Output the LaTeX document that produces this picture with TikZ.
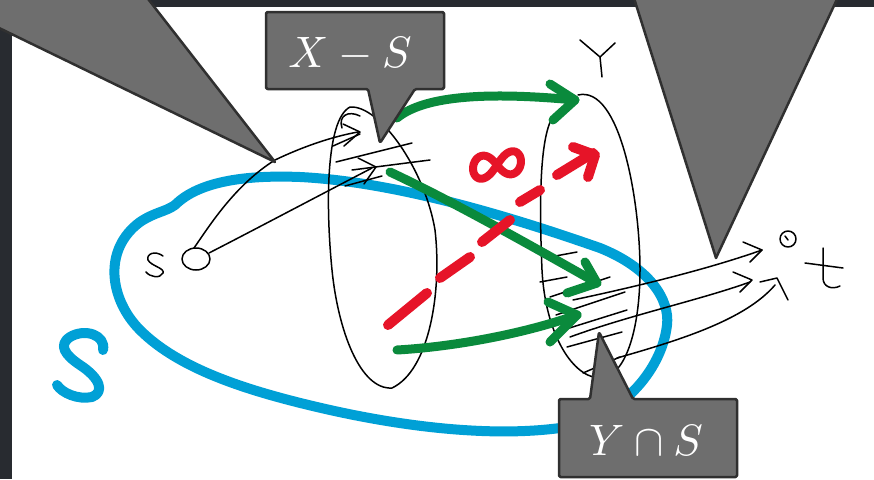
\documentclass[tikz,border=0pt]{standalone}
\usepackage{graphicx}
\usetikzlibrary{calc}
\definecolor{darkbg}{RGB}{40,43,48}
\definecolor{callgray}{RGB}{110,110,110}
\definecolor{calledge}{RGB}{48,48,48}
\definecolor{skyblue}{RGB}{0,160,214}
\definecolor{pgreen}{RGB}{10,138,60}
\definecolor{pred}{RGB}{230,20,40}
\tikzset{
  hand/.style={draw=black,line width=1.5pt,line cap=round,line join=round},
  bluepen/.style={draw=skyblue,line width=10pt,line cap=round,line join=round},
  greenpen/.style={draw=pgreen,line width=9pt,line cap=round,line join=round},
  redpen/.style={draw=pred,line width=10pt,line cap=round,line join=round},
  callout/.style={fill=callgray,draw=calledge,line width=2.5pt,line join=round},
  calltext/.style={text=white,inner sep=0pt}
}
\begin{document}
\begin{tikzpicture}[x=1pt,y=-1pt]
\useasboundingbox (0,0) rectangle (874,479);
% background
\fill[darkbg] (0,0) rectangle (874,479);
\fill[white] (12,7) rectangle (874,479);

% blue set S
\path[bluepen] (175,205) .. controls (200,180) and (250,175) .. (300,177)
  .. controls (400,182) and (520,220) .. (600,248)
  .. controls (650,268) and (670,300) .. (667,325)
  .. controls (662,370) and (620,420) .. (560,428)
  .. controls (500,436) and (420,430) .. (330,410)
  .. controls (250,392) and (180,370) .. (140,330)
  .. controls (110,300) and (102,250) .. (140,222)
  .. controls (155,212) and (165,212) .. (175,205);
\path[bluepen] (103,350) .. controls (106,335) and (85,328) .. (70,337)
  .. controls (58,345) and (65,355) .. (80,365)
  .. controls (100,378) and (105,392) .. (92,397)
  .. controls (78,400) and (62,393) .. (57,385);

% s and source circle
\path[hand] (163,256) .. controls (155,250) and (146,254) .. (148,260)
  .. controls (151,266) and (165,268) .. (163,273)
  .. controls (160,279) and (150,277) .. (146,272);
\draw[hand] (196,259) ellipse [x radius=14, y radius=11];
\path[hand] (194,248) .. controls (210,225) and (235,185) .. (275,160)
  .. controls (300,148) and (330,137) .. (358,132);
\path[hand] (343,124) -- (360,132) -- (344,146);
\path[hand] (209,253) .. controls (250,232) and (320,195) .. (372,168);
\path[hand] (358,158) -- (376,167) -- (364,184);

% X oval
\path[hand] (350,107) .. controls (380,105) and (425,170) .. (435,230)
  .. controls (442,290) and (430,370) .. (392,388)
  .. controls (360,390) and (338,330) .. (332,270)
  .. controls (326,210) and (325,120) .. (350,107);
\path[hand] (342,128) .. controls (338,116) and (348,110) .. (360,116);
\path[hand] (333,146) -- (360,134);
\path[hand] (336,162) -- (412,143);
\path[hand] (352,170) -- (430,160);
\path[hand] (345,186) -- (382,176);

% Y oval and label
\path[hand] (578,95) .. controls (620,85) and (640,200) .. (640,270)
  .. controls (640,330) and (625,380) .. (598,378)
  .. controls (570,375) and (545,330) .. (542,270)
  .. controls (539,200) and (540,140) .. (552,118);
\path[hand] (572,94) -- (575,104);
\path[hand] (580,40) -- (600,57) -- (615,43);
\path[hand] (600,57) -- (602,77);

% hatching of Y cap S
\path[hand] (550,257) -- (577,252);
\path[hand] (540,282) -- (567,277);
\path[hand] (550,297) -- (610,277);
\path[hand] (556,315) -- (625,292);
\path[hand] (563,330) -- (627,310);
\path[hand] (567,347) -- (622,332);
\path[hand] (583,373) -- (620,357);

% lines to t
\path[hand] (573,300) .. controls (620,290) and (700,272) .. (762,250);
\path[hand] (743,242) -- (762,250) -- (750,262);
\path[hand] (570,337) .. controls (630,315) and (700,300) .. (750,282);
\path[hand] (733,272) -- (752,280) -- (740,292);
\path[hand] (617,358) .. controls (680,340) and (745,320) .. (775,285);
\path[hand] (760,282) -- (777,278) -- (788,300);

% t
\draw[hand] (788,239) circle [radius=8];
\path[hand] (785,236) -- (788,240);
\path[hand] (805,263) -- (843,268);
\path[hand] (823,248) -- (823,278) .. controls (823,287) and (832,290) .. (840,286);

% green arrows
\path[greenpen] (397,118) .. controls (425,95) and (490,92) .. (575,100);
\path[greenpen] (550,84) -- (575,100) -- (553,120);
\path[greenpen] (390,172) .. controls (450,200) and (530,245) .. (597,283);
\path[greenpen] (585,262) -- (597,283) -- (567,293);
\path[greenpen] (397,350) .. controls (450,347) and (520,335) .. (577,315);
\path[greenpen] (548,302) -- (577,315) -- (550,342);

% red dashed arrow and infinity
\path[redpen] (388,325) -- (427,293);
\path[redpen] (440,278) -- (470,257);
\path[redpen] (482,242) -- (510,220);
\path[redpen] (520,202) -- (540,190);
\path[redpen] (557,175) -- (593,153);
\path[redpen] (573,147) -- (595,155) -- (588,177);
\draw[pred,line width=8pt,line cap=round,line join=round]
  plot[domain=0:360,samples=72,smooth cycle,variable=\t]
  ({497 + 24*cos(\t)/(1+sin(\t)^2)},
   {165 + 1.35*24*sin(\t)*cos(\t)/(1+sin(\t)^2) - 0.15*24*cos(\t)/(1+sin(\t)^2)});

% callouts
\path[callout] (-5,-5) -- (145,-5) -- (275,162) -- (-5,26) -- cycle;
\path[callout] (633,-5) -- (839,-5) -- (716,258) -- cycle;
\path[callout,rounded corners=1.5pt] (266,12) -- (444,12) -- (444,89) -- (415,89)
  -- (380,143) -- (368,89) -- (266,89) -- cycle;
\node[calltext] (xs) at (350,54) {\scalebox{4.4}{$X - S$}};
\path[callout,rounded corners=1.5pt] (559,399) -- (590,399) -- (599,332) -- (633,399)
  -- (737,399) -- (737,477) -- (559,477) -- cycle;
\node[calltext] (ys) at (646,440) {\scalebox{4.4}{$Y \cap S$}};
\end{tikzpicture}
\end{document}
